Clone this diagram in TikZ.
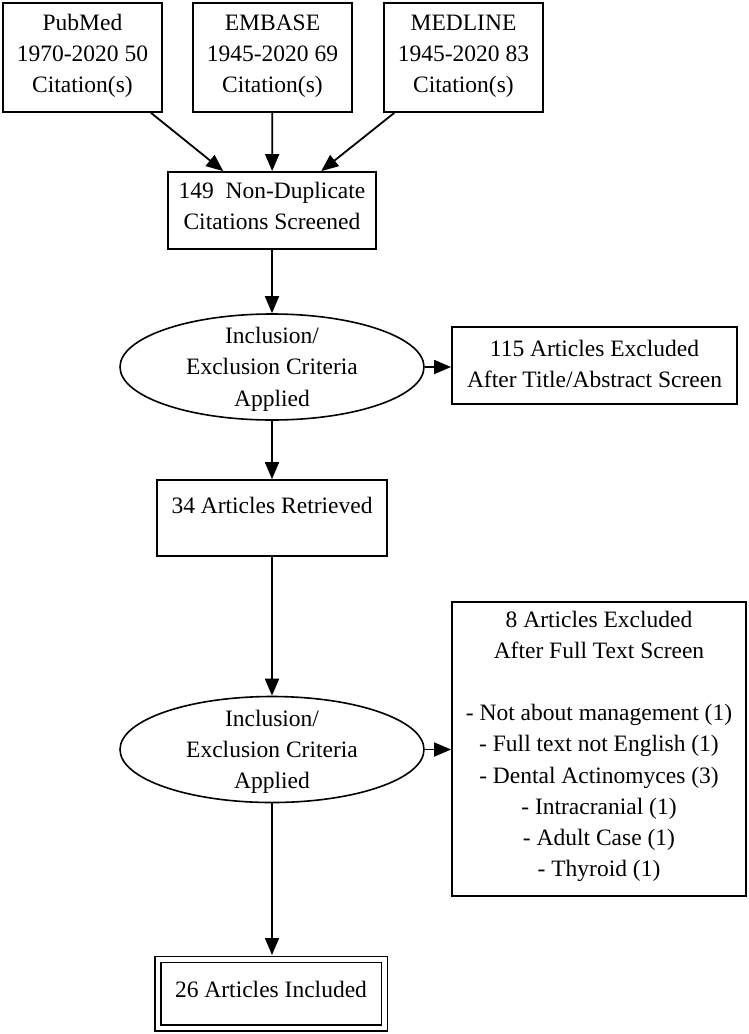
\documentclass[tikz,border=0pt]{standalone}
\usepackage{fontspec}
\setmainfont{Liberation Serif}
\usetikzlibrary{arrows.meta,shapes.geometric}
\begin{document}
\begin{tikzpicture}[x=1pt,y=-1pt,
  txt/.style={align=center, inner sep=0pt, font=\fontsize{23.5}{31.2}\selectfont},
  box/.style={txt, draw, line width=1.8pt},
  ell/.style={txt, draw, ellipse, line width=1.6pt, inner ysep=-3pt, minimum width=304pt, minimum height=106pt, text height=78pt, text depth=0pt},
  topbox/.style={box, minimum width=159pt, minimum height=109pt, text height=75pt, text depth=5pt},
  arr/.style={line width=1.8pt, -{Triangle[length=17pt,width=14pt]}}
]
\useasboundingbox[fill=white] (0,0) rectangle (749,1034);
\node[topbox] (pubmed) at (82.5,57.5) {PubMed\\1970-2020 50\\Citation(s)};
\node[topbox] (embase) at (272.5,57.5) {EMBASE\\1945-2020 69\\Citation(s)};
\node[topbox] (medline) at (463.5,57.5) {MEDLINE\\1945-2020 83\\Citation(s)};
\node[box, minimum width=208pt, minimum height=77pt, text height=45pt, text depth=6.2pt] (nondup) at (272,210.5) {149~~Non-Duplicate\\Citations Screened};
\node[ell] (crit1) at (272,367) {Inclusion/\\Exclusion Criteria\\Applied};
\node[box, minimum width=285pt, minimum height=77pt, text height=50pt, text depth=5.2pt] (excl1) at (594.5,365.5) {115 Articles Excluded\\After Title/Abstract Screen};
\node[box, minimum width=230pt, minimum height=76pt, text height=10pt, text depth=18.4pt] (retr) at (272,518) {34 Articles Retrieved};
\node[ell] (crit2) at (272,749.5) {Inclusion/\\Exclusion Criteria\\Applied};
\node[box, minimum width=294pt, minimum height=294pt, text height=260pt, text depth=4.8pt] (excl2) at (599,749) {8 Articles Excluded\\After Full Text Screen\\[31.2pt]- Not about management (1)\\- Full text not English (1)\\- Dental Actinomyces (3)\\- Intracranial (1)\\- Adult Case (1)\\- Thyroid (1)};
\node[box, line width=1.5pt, double, double distance=4.5pt, minimum width=226.5pt, minimum height=68.5pt, text height=17.6pt, text depth=10pt] (incl) at (271,993.5) {26 Articles Included};
\draw[arr] (pubmed) -- (nondup);
\draw[arr] (embase) -- (nondup);
\draw[arr] (medline) -- (nondup);
\draw[arr] (nondup) -- (crit1);
\draw[arr] (crit1.east) -- (crit1.east -| excl1.west);
\draw[arr] (crit1) -- (retr);
\draw[arr] (retr) -- (crit2);
\draw[arr] (crit2.east) -- (crit2.east -| excl2.west);
\draw[arr, shorten >=3.5pt] (crit2.south) -- (crit2.south |- incl.north);
\end{tikzpicture}
\end{document}
